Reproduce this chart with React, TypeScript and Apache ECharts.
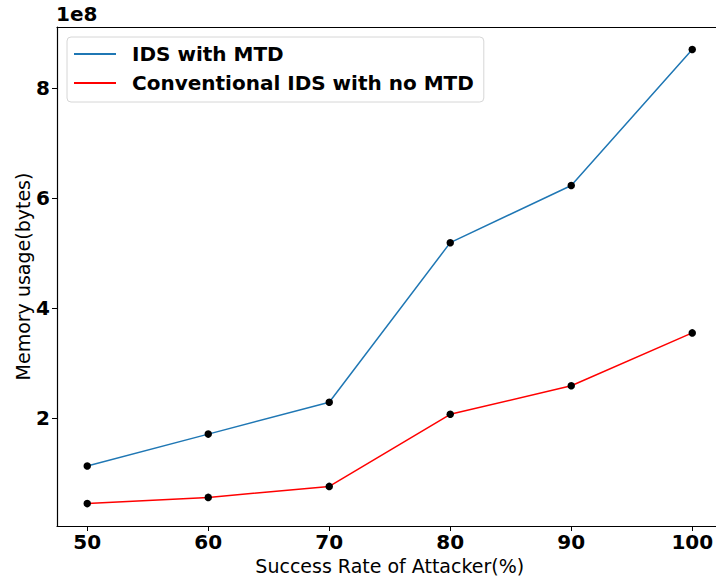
import React, { useEffect, useRef } from "react";
import * as echarts from "echarts";

const successRates = [50, 60, 70, 80, 90, 100];
const idsWithMtd = [113000000, 171000000, 229000000, 519000000, 623000000, 870000000];
const idsNoMtd = [44700000, 56000000, 76000000, 207000000, 259000000, 355000000];
const yTicks = [200000000, 400000000, 600000000, 800000000];
const xTicks = [50, 60, 70, 80, 90, 100];

const FONT = "DejaVu Sans";

export default function App() {
  const ref = useRef<HTMLDivElement>(null);
  useEffect(() => {
    if (!ref.current) return;
    const chart = echarts.init(ref.current, null, { renderer: "svg" });
    const pairs = (vals: number[]) => successRates.map((x, i) => [x, vals[i]]);
    chart.setOption({
      animation: false,
      backgroundColor: "#fff",
      textStyle: { fontFamily: FONT },
      grid: { left: 57, top: 27, bottom: 53, right: -6.5, outerBoundsMode: "none", containLabel: false },
      legend: {
        left: 67,
        top: 37,
        orient: "vertical",
        data: [
          { name: "IDS with MTD", icon: "rect", itemStyle: { color: "#1f77b4" } },
          { name: "Conventional IDS with no MTD", icon: "rect", itemStyle: { color: "#ff0000" } },
        ],
        itemWidth: 42,
        itemHeight: 2,
        itemGap: 7,
        padding: [6, 10, 8, 7],
        borderColor: "#d6d6d6",
        borderWidth: 1,
        borderRadius: 4,
        backgroundColor: "rgba(255,255,255,0.8)",
        textStyle: {
          fontFamily: FONT,
          fontWeight: "bold",
          fontSize: 20,
          color: "#000",
          lineHeight: 22,
          padding: [0, 0, 0, 11],
        },
      },
      graphic: [
        {
          type: "text",
          left: 56,
          top: 4,
          style: { text: "1e8", font: `bold 20px '${FONT}'`, fill: "#000" },
        },
      ],
      xAxis: [
        {
          type: "value",
          min: 47.5,
          max: 102.5,
          position: "bottom",
          name: "Success Rate of Attacker(%)",
          nameLocation: "middle",
          nameGap: 27,
          nameTextStyle: { fontFamily: FONT, fontSize: 19, color: "#000" },
          axisLine: { show: true, lineStyle: { color: "#000", width: 1.2 } },
          axisTick: { show: true, length: 5, lineStyle: { color: "#000" }, customValues: xTicks },
          axisLabel: {
            customValues: xTicks,
            margin: 6,
            fontFamily: FONT,
            fontSize: 20,
            fontWeight: "bold",
            color: "#000",
          },
          splitLine: { show: false },
        },
        {
          type: "value",
          min: 47.5,
          max: 102.5,
          position: "top",
          axisLine: { show: true, lineStyle: { color: "#000", width: 1.2 } },
          axisTick: { show: false },
          axisLabel: { show: false },
          splitLine: { show: false },
        },
      ],
      yAxis: {
        type: "value",
        min: 4000000,
        max: 911000000,
        name: "Memory usage(bytes)",
        nameLocation: "middle",
        nameGap: 25,
        nameMoveOverlap: false,
        nameTextStyle: { fontFamily: FONT, fontSize: 19, color: "#000" },
        axisLine: { show: true, lineStyle: { color: "#000", width: 1.2 } },
        axisTick: { show: true, length: 5, lineStyle: { color: "#000" }, customValues: yTicks },
        axisLabel: {
          customValues: yTicks,
          margin: 7,
          fontFamily: FONT,
          fontSize: 20,
          fontWeight: "bold",
          color: "#000",
          formatter: (v: number) => String(Math.round(v / 1e8)),
        },
        splitLine: { show: false },
      },
      series: [
        {
          name: "IDS with MTD",
          type: "line",
          data: pairs(idsWithMtd),
          symbol: "none",
          lineStyle: { color: "#1f77b4", width: 1.5 },
          itemStyle: { color: "#1f77b4" },
        },
        {
          name: "Conventional IDS with no MTD",
          type: "line",
          data: pairs(idsNoMtd),
          symbol: "none",
          lineStyle: { color: "#ff0000", width: 1.5 },
          itemStyle: { color: "#ff0000" },
        },
        {
          name: "pts1",
          type: "scatter",
          data: pairs(idsWithMtd),
          symbolSize: 7.5,
          itemStyle: { color: "#000", opacity: 1 },
          z: 3,
        },
        {
          name: "pts2",
          type: "scatter",
          data: pairs(idsNoMtd),
          symbolSize: 7.5,
          itemStyle: { color: "#000", opacity: 1 },
          z: 3,
        },
      ],
    });
    return () => chart.dispose();
  }, []);
  return <div ref={ref} style={{ width: 716, height: 579, position: "fixed", left: 0, top: 0 }} />;
}
